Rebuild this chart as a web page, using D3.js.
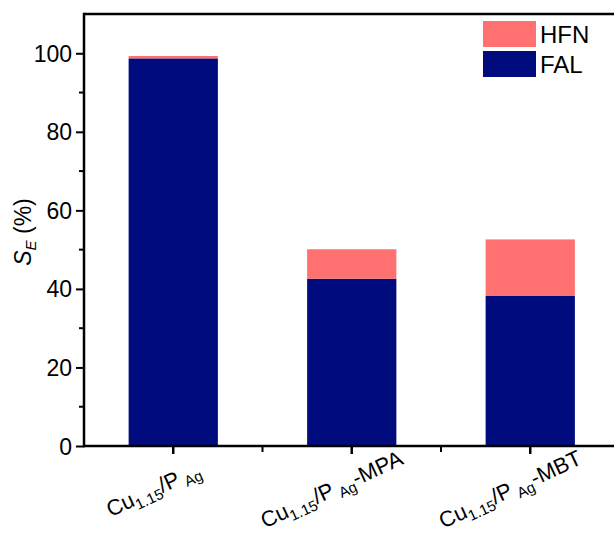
<!DOCTYPE html>
<html><head><meta charset="utf-8">
<script src="https://cdn.jsdelivr.net/npm/d3@7"></script>
<style>body{margin:0;background:#fff}svg{display:block}text{font-family:Arial,"Liberation Sans",sans-serif;fill:#000}</style>
</head><body>
<svg id="c" width="614" height="533"></svg>
<script>
const categories = ["Cu1.15/PAg", "Cu1.15/PAg-MPA", "Cu1.15/PAg-MBT"];
const labelSuffix = ["", "-MPA", "-MBT"];
const seriesNames = ["FAL", "HFN"];
const FAL = [98.7, 42.6, 38.2];
const HFN = [0.6, 7.5, 14.4];
const yTicks = [0, 20, 40, 60, 80, 100];
const colors = {FAL: "#000C7D", HFN: "#FF7070"};

const svg = d3.select("#c");
const L = 84, T = 14, B = 446, R = 619.5;
const x = d3.scaleBand().domain(categories).range([L, R]).paddingInner(0.5).paddingOuter(0.25);
const y = d3.scaleLinear().domain([0, 110]).range([B, T]);

const rows = categories.map((c, i) => ({cat: c, FAL: FAL[i], HFN: HFN[i]}));
const stack = d3.stack().keys(seriesNames)(rows);

svg.append("g").selectAll("g").data(stack).join("g")
  .attr("fill", d => colors[d.key])
  .selectAll("rect").data(d => d).join("rect")
  .attr("x", d => x(d.data.cat))
  .attr("width", x.bandwidth())
  .attr("y", d => y(d[1]))
  .attr("height", d => y(d[0]) - y(d[1]));

// Y axis
const yAxis = svg.append("g").attr("transform", `translate(${L},0)`)
  .call(d3.axisLeft(y).tickValues(yTicks).tickSize(8).tickPadding(4));
yAxis.select(".domain").remove();
yAxis.selectAll(".tick line").attr("stroke", "#000").attr("stroke-width", 2);
yAxis.selectAll(".tick text").attr("font-size", 23).attr("font-family", "Arial, 'Liberation Sans', sans-serif").attr("dy", "0.35em");
// minor y ticks
svg.append("g").selectAll("line").data(d3.range(10, 110, 20)).join("line")
  .attr("x1", L - 5).attr("x2", L).attr("y1", d => y(d)).attr("y2", d => y(d))
  .attr("stroke", "#000").attr("stroke-width", 2);

// X axis ticks
const xAxis = svg.append("g").attr("transform", `translate(0,${B})`)
  .call(d3.axisBottom(x).tickSize(8).tickFormat(""));
xAxis.select(".domain").remove();
xAxis.selectAll(".tick line").attr("stroke", "#000").attr("stroke-width", 2.5);
// minor x ticks between categories
const step = x.step();
const minorX = categories.slice(0, -1).map(c => x(c) + x.bandwidth() / 2 + step / 2);
svg.append("g").selectAll("line").data(minorX).join("line")
  .attr("x1", d => d).attr("x2", d => d)
  .attr("y1", B).attr("y2", B + 6)
  .attr("stroke", "#000").attr("stroke-width", 2);

// frame lines
svg.append("line").attr("x1", L).attr("x2", L).attr("y1", T - 1.25).attr("y2", B + 1.25)
  .attr("stroke", "#000").attr("stroke-width", 2.5);
svg.append("line").attr("x1", L).attr("x2", 614).attr("y1", B).attr("y2", B)
  .attr("stroke", "#000").attr("stroke-width", 2.5);
svg.append("line").attr("x1", L).attr("x2", 614).attr("y1", T).attr("y2", T)
  .attr("stroke", "#000").attr("stroke-width", 2.5);

// X labels (rotated)
categories.forEach((c, i) => {
  const cx = x(c) + x.bandwidth() / 2 - 17;
  const cy = 496;
  const t = svg.append("text").attr("text-anchor", "middle").attr("font-size", 22)
    .attr("x", cx).attr("y", cy)
    .attr("transform", `rotate(-25 ${cx} ${cy})`);
  t.append("tspan").text("Cu");
  t.append("tspan").attr("font-size", 15).attr("dy", 5).text("1.15");
  t.append("tspan").attr("dy", -5).text("/P");
  t.append("tspan").attr("font-size", 15).attr("dy", 5).text("\u00a0Ag");
  t.append("tspan").attr("dy", -5).text(labelSuffix[i]);
});

// Y title
const yt = svg.append("text").attr("text-anchor", "middle").attr("font-size", 23)
  .attr("transform", `translate(31,${(T + B) / 2 + 2}) rotate(-90)`);
yt.append("tspan").attr("font-style", "italic").text("S");
yt.append("tspan").attr("font-style", "italic").attr("font-size", 15).attr("dy", 5).text("E");
yt.append("tspan").attr("dy", -5).text("\u00a0(%)");

// Legend
const legendItems = ["HFN", "FAL"];
const lg = svg.append("g");
legendItems.forEach((k, i) => {
  lg.append("rect").attr("x", 483).attr("y", 21 + i * 30).attr("width", 53).attr("height", 26)
    .attr("fill", colors[k]);
  lg.append("text").attr("x", 540).attr("y", 43 + i * 30).attr("font-size", 24).text(k);
});
</script>
</body></html>
